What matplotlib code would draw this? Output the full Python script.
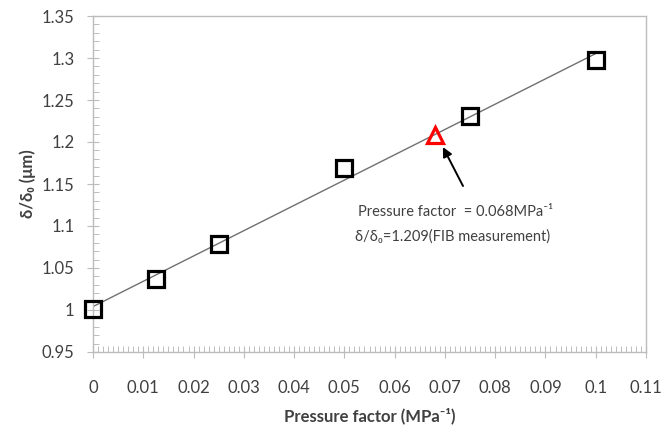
import numpy as np
import matplotlib
matplotlib.use("Agg")
import matplotlib.pyplot as plt
from matplotlib.ticker import MultipleLocator, FuncFormatter

plt.rcParams['font.family'] = ['Lato', 'DejaVu Sans']

pressure = [0.0, 0.0125, 0.025, 0.05, 0.075, 0.1]
ratio = [1.001, 1.037, 1.079, 1.169, 1.231, 1.298]
fib_x = [0.068]
fib_y = [1.208]

W, H = 665, 434
L, R, T, B = 93, 646, 16, 352
fig = plt.figure(figsize=(W/100, H/100), dpi=100)
ax = fig.add_axes([L/W, 1-B/H, (R-L)/W, (B-T)/H])

coef = np.polyfit(pressure, ratio, 1)
xl = np.array([pressure[0], pressure[-1]])
ax.plot(xl, np.polyval(coef, xl), color='#707070', lw=1.0, zorder=2)
ax.plot(pressure, ratio, linestyle='none', marker='s', ms=11, mfc='none',
        mec='black', mew=2.3, zorder=3, clip_on=False)
ax.plot(fib_x, fib_y, linestyle='none', marker='^', ms=11, mfc='none',
        mec='#ff0000', mew=2.3, zorder=4, clip_on=False)

ax.set_xlim(0, 0.11)
ax.set_ylim(0.95, 1.35)
ax.xaxis.set_major_locator(MultipleLocator(0.01))
ax.xaxis.set_minor_locator(MultipleLocator(0.001))
ax.yaxis.set_major_locator(MultipleLocator(0.05))
ax.yaxis.set_minor_locator(MultipleLocator(0.01))

def fmt(v, pos):
    return ('%.2f' % v).rstrip('0').rstrip('.')
ax.xaxis.set_major_formatter(FuncFormatter(fmt))
ax.yaxis.set_major_formatter(FuncFormatter(fmt))

for sp in ax.spines.values():
    sp.set_color('#bcbcbc')
    sp.set_linewidth(1.0)
ax.tick_params(which='major', direction='inout', length=9, width=0.8,
               color='#bcbcbc', labelsize=12, labelcolor='#404040')
ax.tick_params(axis='x', which='major', pad=16)
ax.tick_params(axis='y', which='major', pad=9)
ax.tick_params(which='minor', direction='in', length=4, width=0.7,
               color='#bcbcbc')
ax.tick_params(top=False, right=False, which='both')

ax.set_xlabel('Pressure factor (MPa⁻¹)', fontsize=12, fontweight='bold',
              color='#404040', labelpad=8)
ax.set_ylabel('δ/δ₀ (μm)', fontsize=12, fontweight='bold',
              color='#404040', labelpad=4)

ax.annotate('', xy=(0.0696, 1.194), xytext=(0.0736, 1.1476),
            arrowprops=dict(arrowstyle='-|>', color='black', lw=1.4,
                            mutation_scale=14, shrinkA=0, shrinkB=0))
ax.text(0.0527, 1.1167, 'Pressure factor  = 0.068MPa⁻¹', fontsize=10.5,
        color='#404040', va='center', ha='left')
ax.text(0.0521, 1.0870, 'δ/δ₀=1.209(FIB measurement)', fontsize=10.5,
        color='#404040', va='center', ha='left')

fig.savefig('out.png', dpi=100, facecolor='white')
